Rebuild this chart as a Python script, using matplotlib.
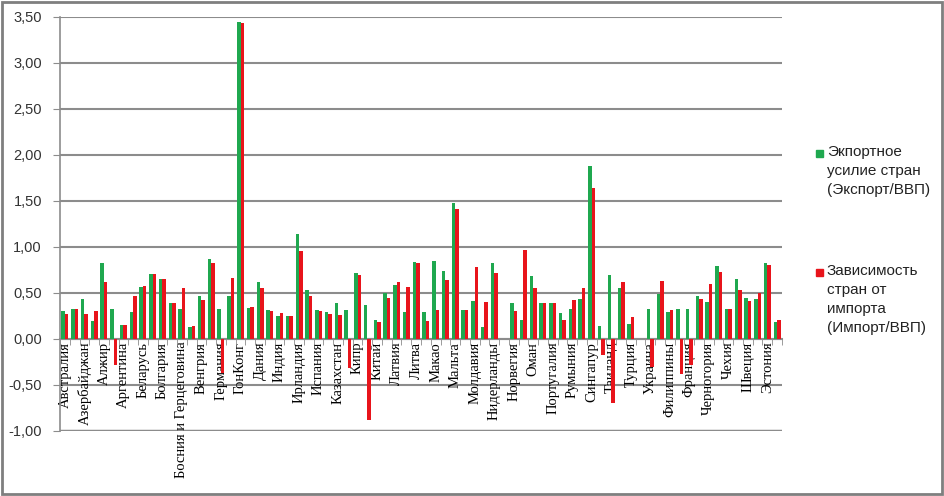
import matplotlib.pyplot as plt
from matplotlib.patches import Rectangle
import numpy as np

# every other category name is hidden on the axis (Excel label interval = 2)
countries = ['Австралия', 'Австрия', 'Азербайджан', 'Албания', 'Алжир', 'Ангола',
             'Аргентина', 'Армения', 'Беларусь', 'Бельгия', 'Болгария', 'Боливия',
             'Босния и Герцеговина', 'Бразилия', 'Венгрия', 'Вьетнам', 'Германия',
             'Гондурас', 'ГонКонг', 'Греция', 'Дания', 'Израиль', 'Индия', 'Индонезия',
             'Ирландия', 'Исландия', 'Испания', 'Италия', 'Казахстан', 'Канада', 'Кипр',
             'Киргизия', 'Китай', 'Корея', 'Латвия', 'Ливан', 'Литва', 'Маврикий',
             'Макао', 'Малайзия', 'Мальта', 'Марокко', 'Молдавия', 'Непал',
             'Нидерланды', 'Новая Зеландия', 'Норвегия', 'ОАЭ', 'Оман', 'Польша',
             'Португалия', 'Россия', 'Румыния', 'Сербия', 'Сингапур', 'США',
             'Таиланд', 'Тунис', 'Турция', 'Уганда', 'Украина', 'Фиджи', 'Филиппины',
             'Финляндия', 'Франция', 'Хорватия', 'Черногория', 'ЦАР', 'Чехия', 'Чили',
             'Швеция', 'Шри-Ланка', 'Эстония', 'Япония']

export_gdp = [0.30, 0.33, 0.43, 0.20, 0.83, 0.33, 0.15, 0.29, 0.57, 0.71,
              0.65, 0.39, 0.33, 0.13, 0.47, 0.87, 0.33, 0.47, 3.45, 0.34,
              0.62, 0.32, 0.25, 0.25, 1.14, 0.53, 0.32, 0.29, 0.39, 0.32,
              0.72, 0.37, 0.21, 0.50, 0.59, 0.29, 0.84, 0.29, 0.85, 0.74,
              1.48, 0.31, 0.41, 0.13, 0.83, 0.00, 0.39, 0.21, 0.68, 0.39,
              0.39, 0.28, 0.33, 0.43, 1.88, 0.14, 0.70, 0.55, 0.16, 0.00,
              0.33, 0.49, 0.29, 0.33, 0.33, 0.47, 0.40, 0.79, 0.33, 0.65,
              0.45, 0.43, 0.83, 0.18]

import_gdp = [0.27, 0.33, 0.27, 0.30, 0.62, -0.28, 0.15, 0.47, 0.58, 0.71,
              0.65, 0.39, 0.55, 0.14, 0.42, 0.83, -0.37, 0.66, 3.44, 0.35,
              0.55, 0.30, 0.28, 0.25, 0.96, 0.47, 0.30, 0.27, 0.26, -0.32,
              0.70, -0.88, 0.19, 0.45, 0.62, 0.56, 0.83, 0.20, 0.32, 0.64,
              1.41, 0.32, 0.78, 0.40, 0.72, 0.00, 0.30, 0.97, 0.55, 0.39,
              0.39, 0.21, 0.42, 0.55, 1.64, -0.17, -0.70, 0.62, 0.24, 0.00,
              -0.30, 0.63, 0.32, -0.38, -0.28, 0.44, 0.60, 0.73, 0.33, 0.53,
              0.41, 0.50, 0.80, 0.21]

legend_labels = ['Экпортное\nусилие стран\n(Экспорт/ВВП)',
                 'Зависимость\nстран от\nимпорта\n(Импорт/ВВП)']

green = '#1fa84f'
red = '#e8141b'
grid_col = '#8c8c8c'

fig = plt.figure(figsize=(9.45, 4.96), dpi=100)
ax = fig.add_axes([60 / 945, 1 - 431 / 496, 722 / 945, 414 / 496])

x = np.arange(len(countries))
w = 0.36
ax.bar(x - w / 2, export_gdp, w, color=green, zorder=3)
ax.bar(x + w / 2, import_gdp, w, color=red, zorder=3)

ax.set_xlim(-0.5, len(countries) - 0.5)
ax.set_ylim(-1.0, 3.5)
yt = np.arange(-1.0, 3.51, 0.5)
ax.set_yticks(yt)
ax.set_yticklabels([f'{v:.2f}'.replace('.', ',') for v in yt],
                   fontfamily='Liberation Sans', fontsize=10.5, color='#333333')
for v in yt:
    ax.axhline(v, color=grid_col, lw=1.5 if v != -1.0 else 2.5, zorder=1)

ax.spines['top'].set_visible(False)
ax.spines['right'].set_visible(False)
ax.spines['left'].set_color(grid_col)
ax.spines['left'].set_linewidth(1.2)
ax.spines['bottom'].set_position(('data', 0))
ax.spines['bottom'].set_color(grid_col)
ax.spines['bottom'].set_linewidth(1.5)
ax.tick_params(axis='y', length=5, color=grid_col, pad=8)

ax.set_xticks(x[::2])
ax.set_xticklabels(countries[::2], rotation=90, fontfamily='Liberation Serif',
                   fontsize=10.5, color='black', va='top', ha='center')
ax.tick_params(axis='x', length=0, pad=2)
ax.set_xticks(np.arange(-0.5, len(countries), 1), minor=True)
ax.tick_params(axis='x', which='minor', length=4, color=grid_col)

# legend drawn by hand so markers sit on the first text line
leg_y = [153, 272]
for lab, col, yy in zip(legend_labels, [green, red], leg_y):
    fig.patches.append(Rectangle((816 / 945, 1 - (yy + 4) / 496), 7 / 945, 7 / 496,
                                 transform=fig.transFigure, color=col))
    fig.text(827 / 945, 1 - (yy - 8) / 496, lab, va='top', ha='left',
             fontfamily='Liberation Sans', fontsize=11, color='#222222',
             linespacing=1.45)

fig.patches.append(Rectangle((0.002, 0.004), 0.995, 0.992, transform=fig.transFigure,
                             fill=False, edgecolor='#7f7f7f', lw=2))

fig.savefig('out.png', dpi=100)
